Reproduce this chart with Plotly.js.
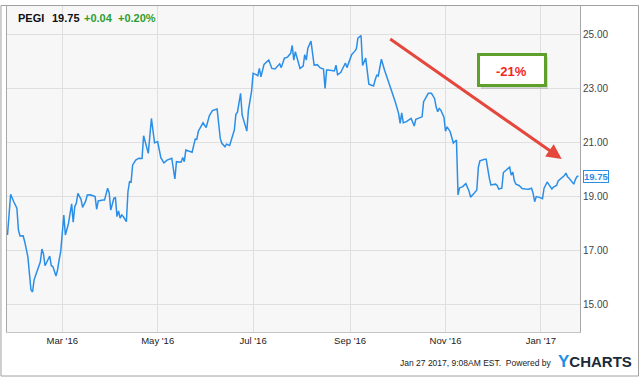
<!DOCTYPE html>
<html>
<head>
<meta charset="utf-8">
<script src="https://cdn.plot.ly/plotly-3.0.1.min.js"></script>
<style>
  html, body { margin: 0; padding: 0; background: #ffffff; }
  #chart { width: 640px; height: 377px; }
</style>
</head>
<body>
<div id="chart"></div>
<script>
// ---- data ----
const ticker = "PEGI";
const lastPrice = 19.75;
const changeAbs = "+0.04";
const changePct = "+0.20%";
const annotationText = "-21%";
const footerText = "Jan 27 2017, 9:08AM EST.  Powered by";

const dates = [
"2016-01-26","2016-01-28","2016-01-30","2016-02-01","2016-02-02","2016-02-03","2016-02-05","2016-02-06","2016-02-08","2016-02-10",
"2016-02-11","2016-02-12","2016-02-14","2016-02-16","2016-02-17","2016-02-18","2016-02-19","2016-02-21","2016-02-22","2016-02-23",
"2016-02-24","2016-02-26","2016-02-27","2016-02-28","2016-02-29","2016-03-02","2016-03-03","2016-03-05","2016-03-07","2016-03-08",
"2016-03-09","2016-03-10","2016-03-11","2016-03-13","2016-03-14","2016-03-16","2016-03-17","2016-03-19","2016-03-22","2016-03-23",
"2016-03-24","2016-03-27","2016-03-28","2016-03-30","2016-03-31","2016-04-01","2016-04-03","2016-04-04","2016-04-05","2016-04-06",
"2016-04-07","2016-04-08","2016-04-09","2016-04-11","2016-04-12","2016-04-13","2016-04-14","2016-04-15","2016-04-17","2016-04-19",
"2016-04-21","2016-04-22","2016-04-24","2016-04-25","2016-04-27","2016-04-29","2016-05-01","2016-05-03","2016-05-05","2016-05-07",
"2016-05-10","2016-05-12","2016-05-13","2016-05-16","2016-05-17","2016-05-18","2016-05-19","2016-05-21","2016-05-23","2016-05-25",
"2016-05-26","2016-05-27","2016-05-30","2016-06-01","2016-06-03","2016-06-05","2016-06-07","2016-06-08","2016-06-10","2016-06-11",
"2016-06-13","2016-06-14","2016-06-16","2016-06-17","2016-06-19","2016-06-20","2016-06-21","2016-06-23","2016-06-24","2016-06-27",
"2016-06-28","2016-06-30","2016-07-01","2016-07-03","2016-07-04","2016-07-05","2016-07-06","2016-07-08","2016-07-11","2016-07-13",
"2016-07-15","2016-07-18","2016-07-19","2016-07-21","2016-07-23","2016-07-25","2016-07-26","2016-07-27","2016-07-28","2016-07-31",
"2016-08-02","2016-08-03","2016-08-04","2016-08-05","2016-08-07","2016-08-09","2016-08-11","2016-08-13","2016-08-15","2016-08-16",
"2016-08-17","2016-08-18","2016-08-22","2016-08-23","2016-08-24","2016-08-26","2016-08-29","2016-08-30","2016-08-31","2016-09-02",
"2016-09-04","2016-09-05","2016-09-06","2016-09-08","2016-09-09","2016-09-11","2016-09-13","2016-09-15","2016-09-16","2016-09-17",
"2016-09-18","2016-09-19","2016-09-21","2016-09-23","2016-09-25","2016-09-27","2016-09-30","2016-10-02","2016-10-03","2016-10-04",
"2016-10-05","2016-10-07","2016-10-10","2016-10-11","2016-10-12","2016-10-13","2016-10-16","2016-10-17","2016-10-18","2016-10-19",
"2016-10-21","2016-10-23","2016-10-25","2016-10-26","2016-10-27","2016-10-28","2016-10-29","2016-10-31","2016-11-01","2016-11-02",
"2016-11-04","2016-11-06","2016-11-07","2016-11-08","2016-11-09","2016-11-10","2016-11-12","2016-11-14","2016-11-16","2016-11-17",
"2016-11-19","2016-11-21","2016-11-22","2016-11-23","2016-11-26","2016-11-27","2016-11-29","2016-11-30","2016-12-03","2016-12-04",
"2016-12-05","2016-12-07","2016-12-08","2016-12-10","2016-12-12","2016-12-13","2016-12-14","2016-12-15","2016-12-16","2016-12-18",
"2016-12-20","2016-12-22","2016-12-24","2016-12-26","2016-12-27","2016-12-28","2016-12-29","2016-12-31","2017-01-02","2017-01-03",
"2017-01-05","2017-01-06","2017-01-08","2017-01-09","2017-01-11","2017-01-12","2017-01-14","2017-01-16","2017-01-17","2017-01-18",
"2017-01-19","2017-01-21","2017-01-22","2017-01-23","2017-01-24","2017-01-25"
];

const prices = [
17.57,19.07,18.80,18.56,17.75,17.53,17.54,17.32,16.77,15.54,
15.46,15.91,16.25,16.58,17.05,16.87,16.43,16.65,16.79,16.43,
16.40,16.05,16.28,16.65,16.95,18.31,17.57,18.00,18.72,18.04,
18.62,18.74,19.11,18.89,18.59,18.83,19.05,19.06,18.99,18.52,
18.83,18.86,18.86,19.30,19.13,18.49,18.93,18.95,18.25,18.46,
18.19,18.31,18.25,18.06,19.17,19.54,19.52,20.16,20.34,20.41,
20.40,21.24,20.77,20.59,21.88,20.98,21.02,20.43,20.24,20.34,
20.41,19.64,20.28,20.26,20.44,20.28,20.71,20.68,20.63,21.12,
21.11,21.41,21.72,21.54,21.98,22.17,22.23,22.23,21.14,20.96,
20.83,20.93,20.88,21.08,21.45,22.03,22.11,22.81,22.01,21.41,
22.19,22.87,23.55,23.50,23.46,23.73,23.42,23.88,24.04,23.73,
23.71,23.90,23.76,24.11,24.15,24.29,24.58,24.04,24.35,23.73,
23.82,24.24,24.04,24.48,24.74,23.85,23.87,23.75,23.71,22.99,
23.67,23.67,23.64,23.85,23.50,23.58,23.93,23.76,23.95,24.24,
24.37,24.45,24.85,24.95,23.84,24.11,23.15,23.10,23.08,23.30,
23.48,23.45,24.07,23.67,23.36,22.99,22.47,22.07,21.70,22.09,
21.72,21.76,21.88,21.70,21.60,21.85,21.92,21.94,22.50,22.62,
22.81,22.81,22.62,22.31,22.13,22.25,22.19,21.93,21.41,21.57,
21.39,20.97,21.02,21.08,19.05,19.31,19.36,19.47,19.20,18.97,
19.09,19.23,20.08,20.31,20.37,20.37,19.67,19.42,19.45,19.40,
19.27,19.30,19.88,19.99,20.08,19.78,19.90,19.57,19.45,19.40,
19.29,19.27,19.26,19.30,19.11,18.80,18.99,18.96,18.91,19.30,
19.53,19.44,19.27,19.34,19.40,19.57,19.66,19.77,19.86,19.72,
19.67,19.54,19.45,19.62,19.73,19.75
];

const yTickVals = [15, 17, 19, 21, 23, 25];

// ---- chart ----
const FONT = "'Liberation Sans', Arial, Helvetica, sans-serif";
const lineBlue = "#2b8fe8";
const green = "#2e9e2e";

const trace = {
  x: dates,
  y: prices,
  type: "scatter",
  mode: "lines",
  line: { color: lineBlue, width: 1.5 },
  hoverinfo: "skip"
};

const layout = {
  width: 640,
  height: 377,
  margin: { l: 7, r: 60, t: 6, b: 45 },
  paper_bgcolor: "#ffffff",
  plot_bgcolor: "#f7f7f7",
  showlegend: false,
  font: { family: FONT, size: 10, color: "#333333" },
  xaxis: {
    type: "date",
    range: ["2016-01-25 16:19", "2017-01-25 23:17"],
    tick0: "2016-03-01",
    dtick: "M2",
    tickformat: "%b '%y",
    ticks: "",
    showgrid: true,
    gridcolor: "#dfdfdf",
    gridwidth: 1,
    showline: true,
    linecolor: "#c4c4c4",
    linewidth: 1,
    mirror: true,
    zeroline: false,
    tickfont: { family: FONT, size: 9.5, color: "#222222" },
    fixedrange: true
  },
  yaxis: {
    side: "right",
    range: [13.98, 26.04],
    tickvals: yTickVals,
    tickformat: ".2f",
    ticks: "",
    showgrid: true,
    gridcolor: "#dfdfdf",
    gridwidth: 1,
    showline: true,
    linecolor: "#a8a8a8",
    linewidth: 1,
    mirror: true,
    zeroline: false,
    tickfont: { family: FONT, size: 10, color: "#444444" },
    fixedrange: true
  },
  shapes: [
    // outer frame
    { type: "rect", xref: "paper", yref: "paper", x0: -0.0105, x1: 1.1021, y0: -0.135, y1: 1.0015,
      line: { color: "#a0a0a0", width: 1 }, fillcolor: "rgba(0,0,0,0)", layer: "above" },
    // box shadow
    { type: "rect", xref: "paper", yref: "paper", x0: 0.8272, x1: 0.9442, y0: 0.7454, y1: 0.8436,
      line: { width: 0 }, fillcolor: "rgba(0,0,0,0.13)", layer: "above" },
    // green box
    { type: "rect", xref: "paper", yref: "paper", x0: 0.8229, x1: 0.9398, y0: 0.7561, y1: 0.8512,
      line: { color: "#5f9f2b", width: 3 }, fillcolor: "#ffffff", layer: "above" }
  ],
  annotations: [
    { xref: "paper", yref: "paper", x: 0.0157, y: 0.9632, xanchor: "left", yanchor: "middle",
      text: "<b>" + ticker + "</b>", showarrow: false, font: { family: FONT, size: 11, color: "#111111" } },
    { xref: "paper", yref: "paper", x: 0.0750, y: 0.9632, xanchor: "left", yanchor: "middle",
      text: "<b>" + lastPrice.toFixed(2) + "</b>", showarrow: false, font: { family: FONT, size: 11, color: "#111111" } },
    { xref: "paper", yref: "paper", x: 0.1309, y: 0.9632, xanchor: "left", yanchor: "middle",
      text: "<b>" + changeAbs + "</b>", showarrow: false, font: { family: FONT, size: 11, color: green } },
    { xref: "paper", yref: "paper", x: 0.1902, y: 0.9632, xanchor: "left", yanchor: "middle",
      text: "<b>" + changePct + "</b>", showarrow: false, font: { family: FONT, size: 11, color: green } },
    // red arrow
    { xref: "paper", yref: "paper", x: 0.9681, y: 0.5307, ax: -173, ay: -121,
      text: "", showarrow: true, arrowhead: 2, arrowsize: 1, arrowwidth: 3, arrowcolor: "#e5473d" },
    // -21% text
    { xref: "paper", yref: "paper", x: 0.8813, y: 0.8006, xanchor: "center", yanchor: "middle",
      text: "<b>" + annotationText + "</b>", showarrow: false, font: { family: FONT, size: 13, color: "#f0281e" } },
    // last value tag
    { xref: "paper", yref: "y", x: 1.0279, y: lastPrice, xanchor: "center", yanchor: "middle",
      text: "<b>" + lastPrice.toFixed(2) + "</b>", showarrow: false, bgcolor: "#ffffff",
      bordercolor: lineBlue, borderwidth: 1, borderpad: 0,
      font: { family: FONT, size: 9.5, color: lineBlue } },
    // footer
    { xref: "paper", yref: "paper", x: 0.9529, y: -0.0951, xanchor: "right", yanchor: "middle",
      text: footerText, showarrow: false, font: { family: FONT, size: 8.5, color: "#222222" } },
    { xref: "paper", yref: "paper", x: 0.9581, y: -0.092, xanchor: "left", yanchor: "middle",
      text: "<b><span style='color:#1e8fe6;font-size:17px'>Y</span>CHARTS</b>", showarrow: false,
      font: { family: FONT, size: 15, color: "#1b2a3a" } }
  ]
};

Plotly.newPlot("chart", [trace], layout, { displayModeBar: false, staticPlot: true });
</script>
</body>
</html>
